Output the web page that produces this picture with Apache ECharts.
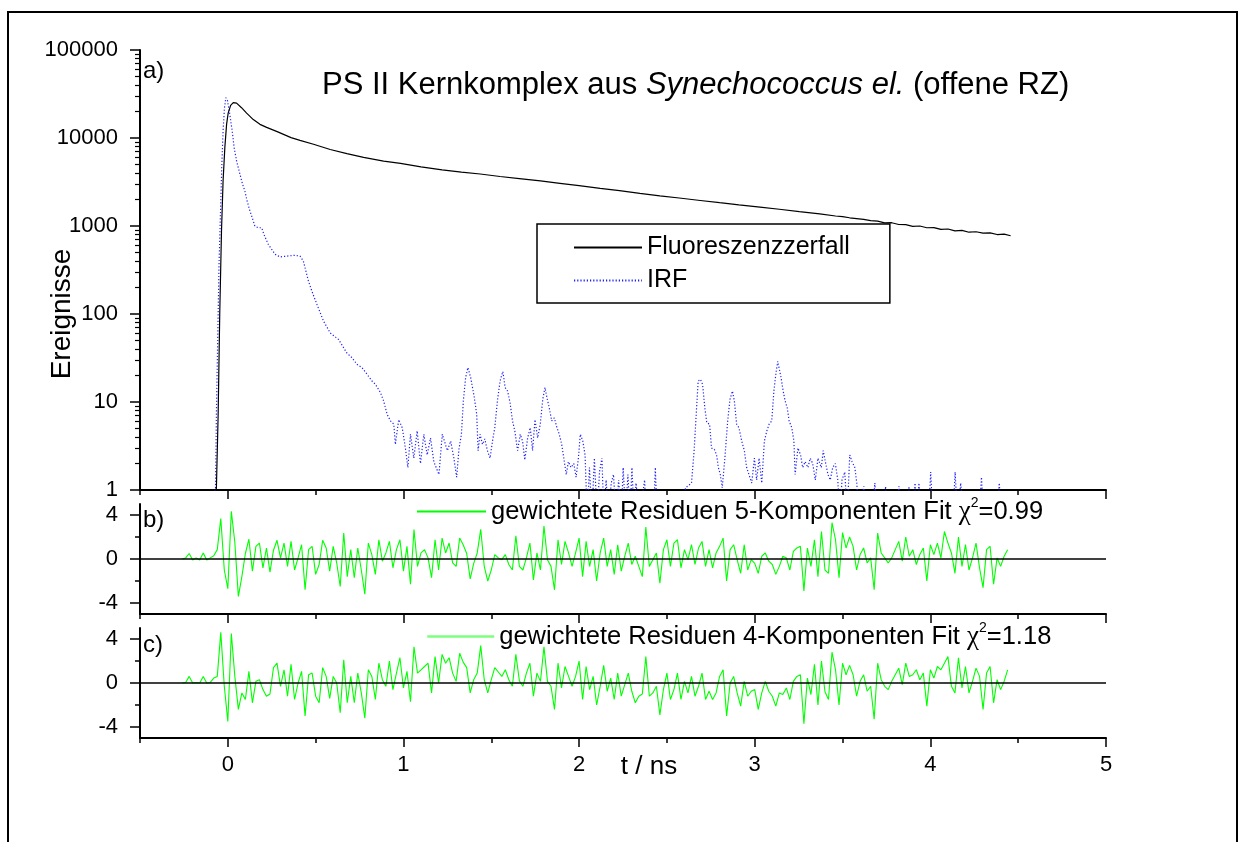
<!DOCTYPE html>
<html>
<head>
<meta charset="utf-8">
<title>PS II Kernkomplex - Fluoreszenzzerfall</title>
<script src="https://cdn.jsdelivr.net/npm/echarts@6/dist/echarts.min.js"></script>
<style>
  html, body { margin: 0; padding: 0; background: #fff; }
  #chart { width: 1245px; height: 842px; }
</style>
</head>
<body>
<div id="chart"></div>
<script>
// Fluoreszenzzerfall: [t / ns, Ereignisse]
const decay = [
  [-0.08, 0.5], [-0.065, 1.06], [-0.055, 7.3], [-0.046, 100], [-0.036, 880], [-0.027, 3240],
  [-0.017, 7770], [-0.007, 14300], [0.002, 19200], [0.016, 23500], [0.031, 25200], [0.050, 24900],
  [0.078, 22100], [0.107, 19200], [0.145, 16200], [0.183, 14300], [0.221, 13200], [0.281, 11800],
  [0.360, 10100], [0.411, 9400], [0.488, 8490], [0.583, 7400], [0.678, 6650], [0.773, 6030],
  [0.887, 5470], [0.983, 5160], [1.10, 4700], [1.22, 4350], [1.33, 4100], [1.437, 3900],
  [1.55, 3650], [1.66, 3450], [1.78, 3250], [1.891, 3055], [2.0, 2880], [2.12, 2680],
  [2.23, 2520], [2.346, 2350], [2.46, 2200], [2.57, 2080], [2.69, 1950], [2.80, 1840],
  [2.91, 1740], [3.03, 1640], [3.14, 1550], [3.254, 1455], [3.37, 1370], [3.46, 1300],
  [3.50, 1275], [3.54, 1240], [3.58, 1215], [3.62, 1190], [3.66, 1150], [3.70, 1135],
  [3.74, 1085], [3.78, 1090], [3.82, 1040], [3.86, 1035], [3.90, 990], [3.94, 1000],
  [3.98, 955], [4.02, 960], [4.06, 915], [4.10, 925], [4.14, 880], [4.18, 890],
  [4.22, 850], [4.26, 860], [4.30, 830], [4.34, 835], [4.38, 800], [4.42, 810], [4.457, 775]
];

// IRF: [t / ns, Ereignisse]; 0.5 = kein Ereignis (unterhalb der Achse)
const irf = [
  [-0.103, 0.5], [-0.070, 1.06], [-0.065, 7.3], [-0.055, 100], [-0.050, 370], [-0.042, 1360],
  [-0.034, 5000], [-0.027, 12000], [-0.019, 22100], [-0.011, 28700], [-0.002, 26700], [0.011, 18700],
  [0.025, 12000], [0.036, 7770], [0.050, 5470], [0.069, 3880], [0.084, 2980], [0.097, 2500],
  [0.110, 1920], [0.126, 1480], [0.145, 1140], [0.154, 1000], [0.173, 955], [0.193, 955],
  [0.206, 800], [0.230, 620], [0.269, 477], [0.297, 445], [0.335, 455], [0.383, 465],
  [0.411, 455], [0.430, 400], [0.459, 237], [0.478, 183], [0.507, 129], [0.545, 83],
  [0.583, 61], [0.630, 51.5], [0.678, 36], [0.707, 31.8], [0.735, 26.8], [0.764, 24.6],
  [0.793, 20.6], [0.821, 17.3], [0.840, 15.9], [0.869, 12.8], [0.887, 10.3], [0.907, 7.25],
  [0.926, 6.1], [0.945, 5.6], [0.954, 3.3], [0.973, 6.3], [0.993, 5.1], [1.011, 3.0],
  [1.025, 1.8], [1.040, 4.3], [1.059, 2.3], [1.078, 4.7], [1.097, 2.0], [1.116, 4.3],
  [1.135, 2.5], [1.154, 3.9], [1.173, 2.1], [1.202, 1.5], [1.221, 4.3], [1.250, 2.8],
  [1.269, 3.6], [1.287, 2.3], [1.303, 1.4], [1.316, 2.9], [1.330, 4.3], [1.341, 10.3],
  [1.354, 18.9], [1.367, 24.6], [1.383, 18.9], [1.402, 11.7], [1.417, 7.3], [1.425, 2.8],
  [1.436, 4.3], [1.450, 3.3], [1.463, 3.8], [1.478, 2.8], [1.493, 2.3], [1.507, 3.6],
  [1.520, 5.1], [1.535, 10.3], [1.550, 17.3], [1.566, 22.2], [1.579, 14.6], [1.593, 13.3],
  [1.607, 9.8], [1.621, 6.1], [1.634, 4.7], [1.650, 2.8], [1.665, 4.3], [1.678, 3.6],
  [1.691, 2.2], [1.707, 3.9], [1.722, 5.1], [1.735, 2.8], [1.749, 6.3], [1.764, 3.9],
  [1.779, 5.6], [1.793, 10.7], [1.806, 14.6], [1.817, 11.2], [1.830, 8.6], [1.844, 6.1],
  [1.859, 6.6], [1.874, 5.1], [1.887, 4.3], [1.901, 3.3], [1.916, 2.1], [1.927, 1.5],
  [1.939, 2.1], [1.954, 1.8], [1.970, 2.0], [1.983, 1.4], [1.996, 2.3], [2.007, 4.3],
  [2.021, 3.6], [2.034, 2.5], [2.046, 0.5], [2.059, 1.8], [2.073, 0.5], [2.087, 2.3],
  [2.103, 0.5], [2.116, 1.6], [2.130, 2.3], [2.141, 0.5], [2.154, 1.3], [2.167, 0.5],
  [2.183, 1.2], [2.196, 1.5], [2.210, 0.5], [2.225, 1.3], [2.240, 0.5], [2.251, 1.8],
  [2.265, 0.5], [2.278, 1.5], [2.290, 0.5], [2.301, 1.8], [2.313, 0.5], [2.324, 1.2],
  [2.345, 0.5], [2.373, 1.3], [2.383, 0.5], [2.424, 0.5], [2.434, 1.8], [2.444, 0.5],
  [2.583, 0.5], [2.606, 1.06], [2.640, 1.2], [2.655, 2.8], [2.669, 8.6], [2.678, 17.3],
  [2.691, 18.1], [2.703, 15.9], [2.716, 8.6], [2.727, 5.8], [2.743, 5.6], [2.754, 3.0],
  [2.770, 2.9], [2.783, 2.5], [2.793, 1.8], [2.804, 1.5], [2.815, 1.06], [2.830, 2.3],
  [2.846, 6.1], [2.859, 10.7], [2.873, 13.3], [2.884, 10.3], [2.897, 5.6], [2.910, 5.1],
  [2.926, 3.6], [2.941, 2.8], [2.954, 1.8], [2.967, 1.5], [2.983, 1.2], [2.998, 2.3],
  [3.011, 1.3], [3.025, 2.3], [3.040, 1.2], [3.055, 3.6], [3.069, 4.7], [3.082, 5.6],
  [3.097, 6.1], [3.109, 13.3], [3.120, 20.6], [3.131, 29], [3.139, 30.5], [3.150, 18.9],
  [3.162, 13.3], [3.173, 10.3], [3.185, 8.6], [3.196, 6.1], [3.211, 5.1], [3.223, 3.6],
  [3.230, 1.5], [3.246, 3.0], [3.261, 2.5], [3.273, 1.8], [3.287, 2.1], [3.303, 1.8],
  [3.316, 2.3], [3.330, 2.0], [3.345, 1.3], [3.360, 2.3], [3.379, 1.8], [3.390, 2.8],
  [3.402, 2.1], [3.417, 1.5], [3.430, 1.3], [3.444, 1.8], [3.459, 2.0], [3.473, 1.3],
  [3.484, 0.5], [3.497, 1.3], [3.513, 1.6], [3.526, 0.5], [3.541, 2.5], [3.554, 2.1],
  [3.570, 1.8], [3.581, 1.2], [3.593, 0.5], [3.621, 1.1], [3.634, 0.5], [3.669, 0.5],
  [3.684, 1.2], [3.697, 0.5], [3.731, 0.5], [3.745, 1.1], [3.760, 0.5], [3.806, 0.5],
  [3.821, 1.1], [3.834, 0.5], [3.863, 0.5], [3.878, 1.1], [3.891, 0.5], [3.900, 0.5],
  [3.913, 1.2], [3.924, 0.5], [3.935, 1.2], [3.947, 0.5], [3.989, 0.5], [4.002, 1.6],
  [4.014, 0.5], [4.129, 0.5], [4.141, 1.6], [4.154, 0.5], [4.173, 1.2], [4.186, 0.5],
  [4.278, 0.5], [4.291, 1.4], [4.303, 0.5], [4.380, 0.5], [4.392, 1.2], [4.406, 0.5], [4.446, 0.5]
];

// gewichtete Residuen, Kanalraster ab resStart in Schritten von resStep (ns)
const resStart = -0.26;
const resStep = 0.02;
const residual5 = [
  0, 0.1, 0.5, -0.1, 0.1, -0.1, 0.55, -0.1, 0.1, 0.3,
  0.85, 3.67, -1.0, -2.7, 4.33, 1.5, -3.4, -1.6, 0.5, 1.8,
  -1.1, 1.15, 1.45, -0.8, 1.0, -1.2, 0.8, 1.7, 0.1, 1.45,
  -0.67, 1.6, -1.0, 0.1, 1.3, -2.8, 0.85, 1.15, -1.4, -0.5,
  1.7, 1.0, -1.1, 1.15, -0.36, -2.5, 2.36, -1.6, 0.85, -1.7,
  1.0, -1.0, -3.2, 1.45, 0.4, -1.4, 1.75, -0.2, 0.55, 1.6,
  -0.8, 0.85, 1.75, -1.1, 1.15, -2.3, 2.67, -0.67, 0.55, 0.85,
  0.1, -1.7, 1.75, -1.0, 1.9, 0.55, 1.45, -0.36, -0.67, 1.9,
  1.3, 0.5, -1.8, -0.4, 0.55, 2.7, -0.67, -2.0, -1.0, 0.4,
  0.1, -0.06, 0.4, -0.5, -1.0, 2.1, -0.67, -1.0, 0.1, 1.45,
  -1.9, 0.55, -1.0, 3.0, -0.06, -0.67, -2.8, 1.75, -0.5, 1.6,
  0.55, -0.67, 0.55, 1.9, -1.6, 1.6, -0.67, 0.85, -2.0, 0.55,
  1.9, -0.67, 0.85, -1.4, 1.3, -1.1, 0.25, 1.45, -0.5, 0.25,
  -0.67, -1.6, 2.9, -0.67, -0.06, 0.55, -2.2, 0.85, 1.75, -0.67,
  1.45, 1.75, -0.8, 0.85, -0.06, 1.3, -0.5, 1.0, 1.6, -0.67,
  0.85, -0.8, 0.55, 1.15, 1.9, -2.0, 0.85, 1.3, -0.06, -1.3,
  1.3, -1.0, -0.06, -0.4, -1.3, 0.25, 0.55, -0.2, -0.5, -1.4,
  -0.67, 0.25, 0.1, -1.0, 0.7, 1.0, 1.15, -2.9, 1.0, -0.67,
  1.75, -1.6, 2.5, -1.0, -1.3, 3.3, 1.75, -1.7, 2.4, 1.0,
  2.0, 1.15, -1.0, 0.4, 1.0, -0.36, 0.1, -2.8, 2.36, 0.55,
  0.1, -0.36, 0.1, 0.85, 1.6, -0.2, 2.0, 0.25, 0.85, -0.5,
  0.4, 1.0, -2.0, 1.3, 0.4, 1.45, 0.1, 2.5, 1.45, 0.55,
  -1.3, 2.0, -0.67, 1.3, -1.0, 0.1, 1.45, -0.8, -2.6, 0.85,
  1.15, -2.3, 0.1, -0.67, 0.25, 0.85
];
const residual4 = [
  0, 0.05, 0.6, 0, 0.05, 0, 0.6, 0, 0.05, 0.45,
  0.6, 4.6, -0.3, -3.5, 4.5, 0.6, -2.4, -0.9, -1.5, 1.06,
  -1.8, 0.15, 0.3, -0.6, -1.2, -1.0, 1.4, 1.8, -0.3, 1.2,
  -1.2, 1.7, -1.5, 0.0, 1.06, -3.0, 0.75, 0.9, -1.2, -1.8,
  1.4, 0.6, -1.4, 0.6, 0.0, -2.7, 2.1, -1.8, 0.6, -1.8,
  0.9, -0.9, -3.2, 1.2, 0.6, -1.5, 1.8, 0.3, -0.3, 2.0,
  -0.6, 0.9, 2.3, -0.45, 1.06, -1.7, 3.3, 0.9, 1.2, 1.5,
  1.8, -0.9, 2.4, 0.0, 2.6, 1.8, 2.3, 0.9, 0.15, 2.7,
  1.9, 1.4, -0.9, 0.3, 0.9, 3.4, 0.3, -0.9, 0.3, 1.4,
  1.0, 0.6, 1.2, 0.3, -0.3, 2.6, 0.2, -0.3, 0.9, 1.8,
  -1.2, 0.9, 0.15, 3.3, 0.15, -0.3, -2.4, 1.8, -0.45, 1.5,
  0.6, -0.3, 0.6, 2.0, -1.5, 1.5, -0.6, 0.6, -2.0, -0.3,
  1.6, -0.75, 0.45, -1.5, 0.9, -1.2, -0.15, 0.9, -0.75, -1.8,
  -1.2, -1.0, 2.4, -1.2, -0.9, -0.3, -2.9, -0.6, 0.9, -1.5,
  -0.6, 0.9, -1.5, 0.15, -0.9, 0.6, -1.2, -0.3, 0.9, -1.5,
  -0.75, -1.5, -0.9, 0.6, 1.2, -3.0, 0.0, 0.6, -0.9, -2.1,
  0.15, -1.2, -0.75, -0.6, -2.4, -0.9, 0.15, -0.75, -1.2, -2.1,
  -0.9, -1.05, -0.45, -1.5, 0.15, 0.6, 0.75, -3.7, 0.45, -1.05,
  1.7, -2.0, 2.0, -0.8, -1.5, 2.8, 1.2, -2.0, 1.8, 0.75,
  1.6, 0.75, -1.2, 0.15, 0.75, -0.75, -0.3, -3.3, 1.8, 0.3,
  -0.3, -0.6, 0.15, 0.75, 1.35, -0.15, 1.8, 0.6, 0.75, 1.2,
  0.3, 0.9, -2.1, 1.2, 0.45, 1.5, 1.2, 1.8, 2.4, -0.3,
  -0.9, 2.3, -0.45, 1.5, -0.9, 0.15, 1.35, 0.6, -2.4, 0.9,
  1.5, -1.8, 0.3, -0.6, 0.15, 1.2
];

// Achsenmarken
const xMajorTicks = [0, 1, 2, 3, 4, 5];
const resMajorTicks = [-4, 0, 4];
const resMinorTicks = [-2, 2];
const logMinorFactors = [2, 3, 4, 5, 6, 7, 8, 9];

const FONT = '"Liberation Sans", Arial, Helvetica, sans-serif';
const BLACK = '#000';

const chart = echarts.init(document.getElementById('chart'));

const toSeries = arr => arr.map((v, i) => [Number((resStart + i * resStep).toFixed(3)), v]);

// Nebenmarken der log-Achse (Lage in Dekaden)
const logMinorPos = [];
for (let d = 0; d < 5; d++) {
  logMinorFactors.forEach(f => logMinorPos.push(d + Math.log10(f)));
}

const grids = [
  { left: 140, top: 50, width: 966, height: 440 },
  { left: 140, top: 504, width: 966, height: 110 },
  { left: 140, top: 628, width: 966, height: 110 }
];

function timeAxes (gridIndex, withLabels) {
  return [
    {
      type: 'value', gridIndex, position: 'bottom', min: -0.5, max: 5, interval: 0.5,
      axisLine: { show: true, onZero: false, lineStyle: { color: BLACK, width: 2 } },
      axisTick: { show: true, length: 5, lineStyle: { color: BLACK, width: 1.5 } },
      axisLabel: { show: false },
      splitLine: { show: false }
    },
    {
      type: 'value', gridIndex, position: 'bottom', min: -0.5, max: 5,
      axisLine: { show: false, onZero: false },
      axisTick: { show: true, length: 9, customValues: xMajorTicks, lineStyle: { color: BLACK, width: 1.5 } },
      axisLabel: {
        show: withLabels, customValues: xMajorTicks, margin: 16,
        fontSize: 22, fontFamily: FONT, color: BLACK
      },
      splitLine: { show: false }
    }
  ]
}

function residualAxes (gridIndex) {
  return [
    {
      type: 'value', gridIndex, position: 'left', min: -5, max: 5,
      axisLine: { show: true, onZero: false, lineStyle: { color: BLACK, width: 2 } },
      axisTick: { show: true, length: 10, customValues: resMajorTicks, lineStyle: { color: BLACK, width: 1.5 } },
      axisLabel: { customValues: resMajorTicks, margin: 22, fontSize: 22, fontFamily: FONT, color: BLACK },
      splitLine: { show: false }
    },
    {
      type: 'value', gridIndex, position: 'left', min: -5, max: 5,
      axisLine: { show: false, onZero: false },
      axisTick: { show: true, length: 5, customValues: resMinorTicks, lineStyle: { color: BLACK, width: 1.5 } },
      axisLabel: { show: false },
      splitLine: { show: false }
    }
  ]
}

const chiText = (chi2) =>
  '{t|gewichtete Residuen ' + chi2.k + '-Komponenten Fit }{chi|χ}{sup|2}{t|=' + chi2.v + '}';
const fitInfo = {
  res5: { k: 5, v: '0.99' },
  res4: { k: 4, v: '1.18' }
};
const residualRich = {
  t: { fontFamily: FONT, fontSize: 25.5, color: BLACK, lineHeight: 31 },
  chi: { fontFamily: '"Liberation Serif", "DejaVu Serif", serif', fontSize: 27, color: BLACK, lineHeight: 31 },
  sup: { fontFamily: FONT, fontSize: 14, color: BLACK, lineHeight: 13, verticalAlign: 'top' }
};
const hiddenSymbol = { color: 'rgba(0,0,0,0)', borderColor: 'rgba(0,0,0,0)', borderWidth: 0, opacity: 0 };

const zeroLine = {
  silent: true,
  symbol: 'none',
  label: { show: false },
  lineStyle: { color: BLACK, width: 1.7, type: 'solid' },
  data: [{ yAxis: 0 }]
};

const option = {
  animation: false,
  backgroundColor: '#fff',
  textStyle: { fontFamily: FONT },
  title: {
    left: 322, top: 68, padding: 0,
    text: '{n|PS II Kernkomplex aus }{i|Synechococcus el.}{n| (offene RZ)}',
    textStyle: {
      fontWeight: 'normal',
      rich: {
        n: { fontFamily: FONT, fontSize: 31, fontWeight: 'normal', color: BLACK, lineHeight: 34 },
        i: { fontFamily: FONT, fontSize: 31, fontWeight: 'normal', fontStyle: 'italic', color: BLACK, lineHeight: 34 }
      }
    }
  },
  grid: grids,
  xAxis: [].concat(timeAxes(0, false), timeAxes(1, false), timeAxes(2, true)),
  yAxis: [
    {
      type: 'log', gridIndex: 0, position: 'left', logBase: 10, min: 1, max: 100000,
      axisLine: { show: true, onZero: false, lineStyle: { color: BLACK, width: 2 } },
      axisTick: { show: true, length: 10, lineStyle: { color: BLACK, width: 1.5 } },
      axisLabel: {
        margin: 22, fontSize: 22, fontFamily: FONT, color: BLACK,
        formatter: v => String(Math.round(v))
      },
      splitLine: { show: false }
    },
    {
      type: 'value', gridIndex: 0, position: 'left', min: 0, max: 5,
      axisLine: { show: false, onZero: false },
      axisTick: { show: true, length: 5, customValues: logMinorPos, lineStyle: { color: BLACK, width: 1.2 } },
      axisLabel: { show: false },
      splitLine: { show: false }
    }
  ].concat(residualAxes(1), residualAxes(2)),
  legend: [
    {
      data: ['Fluoreszenzzerfall', 'IRF'],
      orient: 'vertical', left: 537, top: 224,
      padding: [11, 40, 10, 36], itemGap: 8, itemWidth: 68, itemHeight: 14,
      borderColor: BLACK, borderWidth: 1.5,
      selectedMode: false,
      itemStyle: hiddenSymbol,
      textStyle: { fontFamily: FONT, fontSize: 25, color: BLACK, lineHeight: 24 }
    },
    {
      data: [{ name: 'res5' }],
      left: 416, top: 496, padding: 0, itemWidth: 69, itemHeight: 10,
      selectedMode: false,
      itemStyle: hiddenSymbol,
      formatter: name => chiText(fitInfo[name]),
      textStyle: { rich: residualRich }
    },
    {
      data: [{ name: 'res4', lineStyle: { color: '#7dff7d', width: 2.5 } }],
      left: 426, top: 621, padding: 0, itemWidth: 67, itemHeight: 10,
      selectedMode: false,
      itemStyle: hiddenSymbol,
      formatter: name => chiText(fitInfo[name]),
      textStyle: { rich: residualRich }
    }
  ],
  graphic: [
    {
      type: 'rect', silent: true,
      shape: { x: 8, y: 12, width: 1229, height: 850 },
      style: { fill: 'none', stroke: BLACK, lineWidth: 2 }
    },
    { type: 'text', x: 143, y: 71, style: { text: 'a)', fontFamily: FONT, fontSize: 24, fill: BLACK, align: 'left', verticalAlign: 'middle' } },
    { type: 'text', x: 143, y: 520, style: { text: 'b)', fontFamily: FONT, fontSize: 24, fill: BLACK, align: 'left', verticalAlign: 'middle' } },
    { type: 'text', x: 143, y: 645, style: { text: 'c)', fontFamily: FONT, fontSize: 24, fill: BLACK, align: 'left', verticalAlign: 'middle' } },
    {
      type: 'text', x: 62, y: 314, rotation: Math.PI / 2,
      style: { text: 'Ereignisse', fontFamily: FONT, fontSize: 28, fill: BLACK, align: 'center', verticalAlign: 'middle' }
    },
    { type: 'text', x: 649, y: 767, style: { text: 't / ns', fontFamily: FONT, fontSize: 26, fill: BLACK, align: 'center', verticalAlign: 'middle' } }
  ],
  series: [
    {
      name: 'IRF', type: 'line', xAxisIndex: 0, yAxisIndex: 0,
      data: irf, symbol: 'none', z: 2, color: '#1f1fff',
      lineStyle: { color: '#1f1fff', width: 1.2, type: [1.2, 2] }
    },
    {
      name: 'Fluoreszenzzerfall', type: 'line', xAxisIndex: 0, yAxisIndex: 0,
      data: decay, symbol: 'none', z: 3, color: BLACK,
      lineStyle: { color: BLACK, width: 1.2 }
    },
    {
      name: 'res5', type: 'line', xAxisIndex: 2, yAxisIndex: 2,
      data: toSeries(residual5), symbol: 'none', color: '#00ff00',
      lineStyle: { color: '#00ff00', width: 1.1 },
      markLine: zeroLine
    },
    {
      name: 'res4', type: 'line', xAxisIndex: 4, yAxisIndex: 4,
      data: toSeries(residual4), symbol: 'none', color: '#00ff00',
      lineStyle: { color: '#00ff00', width: 1.1 },
      markLine: zeroLine
    }
  ]
};

chart.setOption(option);
window.addEventListener('resize', () => {
  chart.resize();
});
</script>
</body>
</html>
